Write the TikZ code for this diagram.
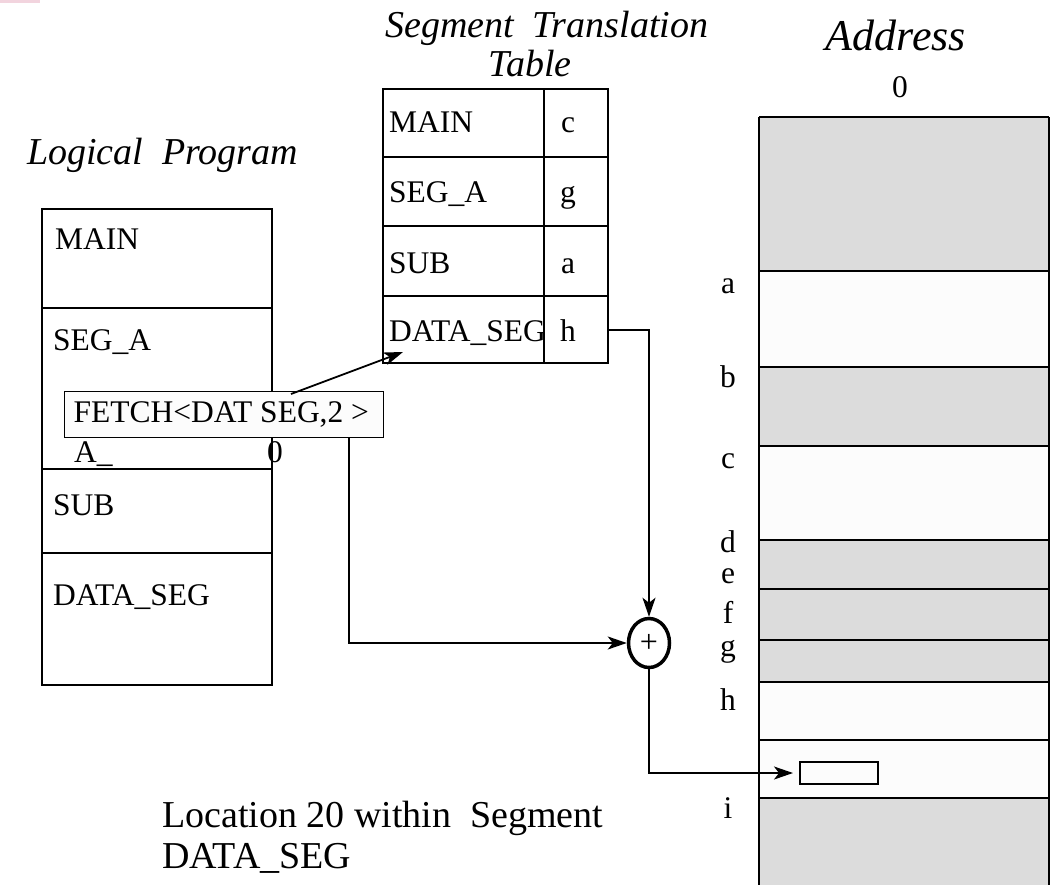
\documentclass[tikz,border=0pt]{standalone}
\usepackage{fontspec}
\setmainfont{Liberation Serif}
\usetikzlibrary{shapes.geometric,arrows.meta}
\definecolor{memgray}{RGB}{220,220,220}
\definecolor{memfree}{RGB}{252,252,252}
\definecolor{tabpink}{RGB}{242,212,222}
\newcommand{\fsz}[1]{\fontsize{#1}{#1}\selectfont}

\begin{document}
\begin{tikzpicture}[x=1pt,y=-1pt,
  frame/.style={draw=black, line width=2pt},
  memline/.style={draw=black, line width=2.4pt},
  lbl/.style={inner sep=0pt, anchor=base west, font=\fsz{31.5}},
  cen/.style={inner sep=0pt, anchor=base, font=\fsz{31.5}},
  title/.style={inner sep=0pt, anchor=base west, font=\fsz{38}\itshape},
  note/.style={inner sep=0pt, anchor=base west, font=\fsz{38}},
  conn/.style={draw=black, line width=1.8pt, -{Stealth[length=19pt,width=13pt,inset=5pt]}},
  adder/.style={ellipse, draw=black, line width=3.5pt, minimum width=41pt, minimum height=49pt, inner sep=0pt},
  fetchbox/.style={draw=black, line width=1.2pt, fill=memfree, anchor=north west,
    minimum width=319pt, minimum height=46pt, inner xsep=9pt, inner ysep=0pt,
    font=\fsz{31.5}},
  slot/.style={draw=black, line width=2pt, fill=memfree, anchor=north west,
    minimum width=78pt, minimum height=22pt, inner sep=0pt}]

\useasboundingbox (0,0) rectangle (1056,885);
\fill[white] (0,0) rectangle (1056,885);
\fill[tabpink] (0,0) rectangle (40,3);

% ---------- titles ----------
\node[title] (tlog) at (27,165) {Logical~~Program};
\node[title] (tseg) at (385,38) {Segment~~Translation};
\node[title, anchor=base] (ttab) at (530,77) {Table};
\node[title, anchor=base, font=\fsz{44}\itshape] (taddr) at (896,51) {Address};
\node[cen] (zero) at (900,98) {0};

% ---------- logical program ----------
\draw[frame] (42,209) rectangle (272,685);
\draw[frame] (42,308) -- (272,308);
\draw[frame] (42,469) -- (272,469);
\draw[frame] (42,553) -- (272,553);
\node[lbl] (lmain) at (55,249) {MAIN};
\node[lbl] (lsega) at (53,350) {SEG\_A};
\node[lbl] (lrest) at (74,462) {A\_};
\node[cen] (lzero) at (275,462) {0};
\node[lbl] (lsub) at (53,515) {SUB};
\node[lbl] (ldata) at (53,605) {DATA\_SEG};

% ---------- segment translation table ----------
\draw[frame] (383,89) rectangle (608,363);
\draw[frame] (383,157) -- (608,157);
\draw[frame] (383,226) -- (608,226);
\draw[frame] (383,296) -- (608,296);
\draw[frame] (544,89) -- (544,363);
\node[lbl] (smain) at (389,133) {MAIN};
\node[lbl] (ssega) at (389,203) {SEG\_A};
\node[lbl] (ssub) at (389,273) {SUB};
\node[lbl] (sdata) at (389,341) {DATA\_SEG};
\node[cen] (bc) at (568,133) {c};
\node[cen] (bg) at (568,203) {g};
\node[cen] (ba) at (568,273) {a};
\node[cen] (bh) at (568,341) {h};
\coordinate (hport) at (608,330);
\coordinate (dsport) at (403,352);

% ---------- physical memory ----------
\foreach \ytop/\ybot/\col in {117/271/memgray, 271/367/memfree, 367/446/memgray,
    446/540/memfree, 540/589/memgray, 589/640/memgray, 640/682/memgray,
    682/740/memfree, 740/798/memfree, 798/885/memgray}
  \fill[\col] (759,\ytop) rectangle (1049,\ybot);
\foreach \yl in {117,271,367,446,540,589,640,682,740,798}
  \draw[memline] (759,\yl) -- (1049,\yl);
\draw[memline] (759,117) -- (759,885);
\draw[memline] (1049,117) -- (1049,885);
\node[cen] (ma) at (728,293) {a};
\node[cen] (mb) at (728,387) {b};
\node[cen] (mc) at (728,468) {c};
\node[cen] (md) at (728,552) {d};
\node[cen] (me) at (728,583) {e};
\node[cen] (mf) at (728,623) {f};
\node[cen] (mg) at (728,656) {g};
\node[cen] (mh) at (728,710) {h};
\node[cen] (mi) at (728,818) {i};
\node[slot] (target) at (799,761) {};

% ---------- address computation ----------
\node[fetchbox] (fetch) at (64,391) {\makebox[301pt][l]{FETCH<DAT SEG,2 >}};
\coordinate (fetchtap) at (291,394);
\coordinate (fetchport) at (349,437);
\node[adder] (sum) at (649,643) {\fsz{32}+};

\draw[conn] (fetchtap) -- (dsport);
\draw[conn] (hport) -| (sum.north);
\draw[conn] (fetchport) |- (sum.west);
\draw[conn, shorten >=6pt] (sum.south) |- (target.west);

% ---------- caption ----------
\node[note] (cap1) at (162,827) {Location 20 within~~Segment};
\node[note] (cap2) at (162,868) {DATA\_SEG};
\end{tikzpicture}
\end{document}
